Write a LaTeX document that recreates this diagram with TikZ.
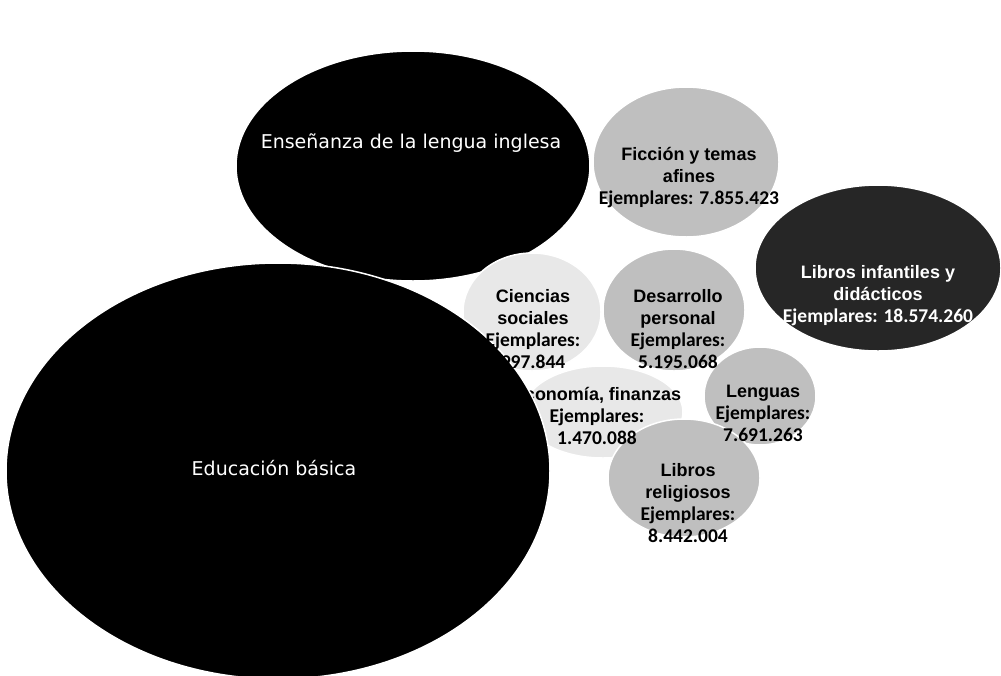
\documentclass[tikz,border=0pt]{standalone}
\usepackage{fontspec}
\usetikzlibrary{shapes.geometric}
\newfontfamily\calfont{Carlito}
\newfontfamily\hdrfont{Liberation Sans}
\newfontfamily\verfont{DejaVu Sans}
\tikzset{
  bub/.style={ellipse, draw=white, line width=1.5pt, inner sep=0pt},
  big/.style={bub, fill=black},
  mid/.style={bub, fill=gray!50},
  pale/.style={bub, fill=gray!18},
  darkb/.style={bub, fill=black!85},
  wlabel/.style={text=white, font=\verfont\fontsize{19}{22}\selectfont},
  blabel/.style={align=center, inner sep=0pt, font=\calfont\bfseries\fontsize{19.5}{22}\selectfont},
}
\newcommand{\hd}[1]{{\hdrfont\bfseries\fontsize{18}{22}\selectfont #1}}
\begin{document}
\begin{tikzpicture}[x=1pt,y=-1pt]
\useasboundingbox (0,0) rectangle (1001,675);
% bubbles
\node[big, minimum width=354pt, minimum height=230pt] (ens) at (413,166) {};
\node[mid, minimum width=186pt, minimum height=150pt] (fic) at (686,162) {};
\node[darkb, minimum width=246pt, minimum height=166pt] (mat) at (878,268) {};
\node[pale, minimum width=138pt, minimum height=118pt] (cie) at (532,312) {};
\node[mid, minimum width=142pt, minimum height=122pt] (des) at (674,310) {};
\node[pale, minimum width=160pt, minimum height=92pt] (eco) at (603,412) {};
\node[mid, minimum width=112pt, minimum height=98pt] (len) at (760,396) {};
\node[mid, minimum width=152pt, minimum height=118pt] (rel) at (684,478) {};
% economy text (partly hidden by big circle)
\node[blabel, anchor=north] (teco) at (597,387) {\hd{Economía, finanzas}\\Ejemplares:\\1.470.088};
% big bottom circle
\node[big, minimum width=544pt, minimum height=416pt] (edu) at (278,471) {};
% labels
\node[wlabel] (tens) at (411,143) {Enseñanza de la lengua inglesa};
\node[wlabel] (tedu) at (274,468) {Educación básica};
\node[blabel, anchor=north] (tfic) at (689,147) {\hd{Ficción y temas}\\\hd{afines}\\Ejemplares: 7.855.423};
\node[blabel, anchor=north, text=white] (tmat) at (878,265) {\hd{Libros infantiles y}\\\hd{didácticos}\\Ejemplares: 18.574.260};
\node[blabel, anchor=north] (tcie) at (533,289) {\hd{Ciencias}\\\hd{sociales}\\Ejemplares:\\997.844};
\node[blabel, anchor=north] (tdes) at (678,289) {\hd{Desarrollo}\\\hd{personal}\\Ejemplares:\\5.195.068};
\node[blabel, anchor=north] (tlen) at (763,385) {\hd{Lenguas}\\Ejemplares:\\7.691.263};
\node[blabel, anchor=north] (trel) at (688,463) {\hd{Libros}\\\hd{religiosos}\\Ejemplares:\\8.442.004};
\end{tikzpicture}
\end{document}
